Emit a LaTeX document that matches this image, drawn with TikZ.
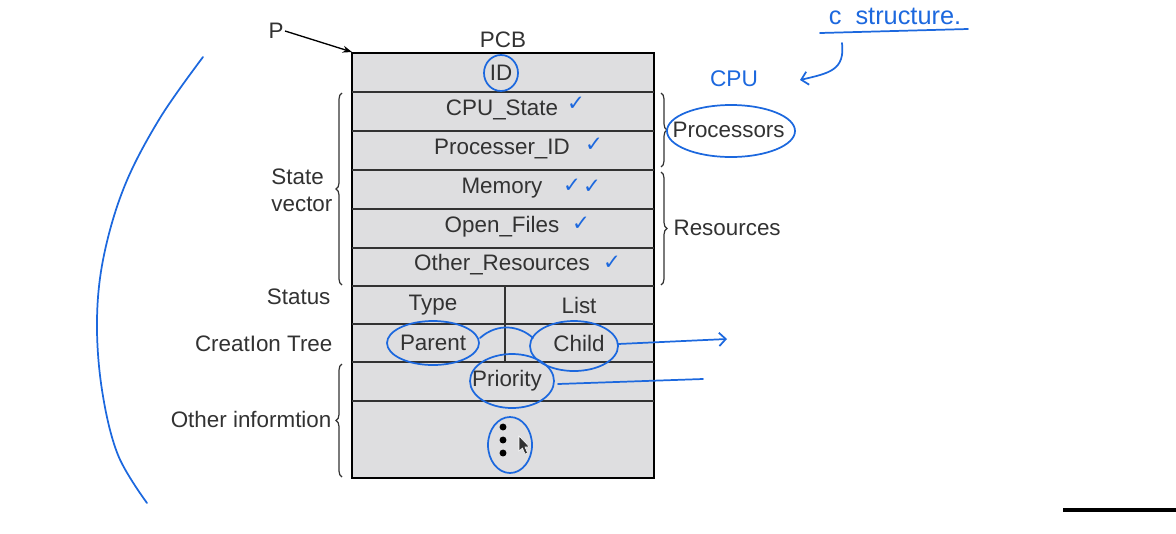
\documentclass[tikz,border=0pt]{standalone}
\usepackage{fontspec}
\setmainfont{Liberation Sans}
\newfontfamily\symfont{DejaVu Sans}
\usetikzlibrary{decorations.pathreplacing,arrows.meta}
\definecolor{pen}{RGB}{28,104,222}
\definecolor{ink}{RGB}{50,50,50}
\definecolor{cell}{RGB}{222,222,224}
\begin{document}
\begin{tikzpicture}[x=0.75pt, y=-0.75pt,
  txt/.style={text=ink, font=\fontsize{16.8}{20}\selectfont, inner sep=1pt},
  pen/.style={draw=pen, line width=1.3pt, line cap=round, line join=round},
  tick/.style={text=pen, font=\symfont\fontsize{16}{16}\selectfont, inner sep=0pt},
  hand/.style={text=pen, font=\fontsize{19}{22}\selectfont, inner sep=0pt},
  brc/.style={decorate, decoration={brace, amplitude=4.5pt}, draw=ink, line width=0.9pt}]
  \useasboundingbox (0,0) rectangle (1176,533);

  % the PCB table
  \draw[fill=cell, line width=1.6pt] (352,53) rectangle (654,478);
  \foreach \y in {92,131,170,209,248,286,324,362,401}
    \draw[ink, line width=1.1pt] (352,\y) -- (654,\y);
  \draw[ink, line width=1.1pt] (505,286) -- (505,362);
  \coordinate (corner) at (352,52);

  \node[txt] (pcb) at (503,40) {PCB};
  \node[txt] (P) at (276,31) {P};
  \draw[line width=1pt, -{Stealth[length=7pt]}] (P.east) -- (corner);

  \node[txt] (id) at (501,73) {ID};
  \node[txt] (cpu) at (502,110) {CPU\_State};
  \node[txt] (pid) at (502,149) {Processer\_ID};
  \node[txt] (mem) at (502,188) {Memory};
  \node[txt] (files) at (502,227) {Open\_Files};
  \node[txt] (other) at (502,265) {Other\_Resources};
  \node[txt] (type) at (433,305) {Type};
  \node[txt] (list) at (579,305) {List};
  \node[txt] (parent) at (433,343) {Parent};
  \node[txt] (child) at (579,343) {Child};
  \node[txt] (prio) at (507,381) {Priority};
  \coordinate (dots) at (503,440);
  \foreach \d in {-13,0,13}
    \fill[black] ([yshift=\d*0.75pt]dots) circle (2.6pt);

  % braces and side labels
  \draw[brc] (342,285) -- (342,93);
  \draw[brc] (342,477) -- (342,364);
  \draw[brc] (661,93) -- (661,167);
  \draw[brc] (661,172) -- (661,285);
  \node[txt, anchor=east, align=left] (sv) at (334,190) {State\\vector};
  \node[txt, anchor=east] (status) at (332,297) {Status};
  \node[txt, anchor=east] (tree) at (334,344) {CreatIon Tree};
  \node[txt, anchor=east] (oinfo) at (333,419) {Other informtion};
  \node[txt, anchor=west] (procs) at (671,130) {Processors};
  \node[txt, anchor=west] (res) at (672,228) {Resources};

  % handwritten notes
  \node[tick] (t1) at (576,104) {✓};
  \node[tick] (t2) at (594,145) {✓};
  \node[tick] (t3) at (572,186) {✓};
  \node[tick] (t4) at (592,187) {✓};
  \node[tick] (t5) at (581,224) {✓};
  \node[tick] (t6) at (612,263) {✓};

  \draw[pen] (id.center) ellipse [x radius=17, y radius=18];
  \draw[pen] (731,131) ellipse [x radius=64, y radius=26];
  \draw[pen] (433,343) ellipse [x radius=46, y radius=22];
  \draw[pen] (574,346) ellipse [x radius=44, y radius=25];
  \draw[pen] (512,381) ellipse [x radius=42, y radius=27];
  \draw[pen] (510,445) ellipse [x radius=22, y radius=28];
  \draw[pen] (480,338) .. controls (498,322) and (520,326) .. (533,338);

  \coordinate (childout) at (727,339);
  \coordinate (prioout) at (703,379);
  \draw[pen, -{Straight Barb[length=5pt]}] (618,344) -- (childout);
  \draw[pen] (558,384) -- (prioout);

  \node[hand] (cstruct) at (895,16) {c\ \ structure.};
  \draw[pen] (820,33) -- (968,29);
  \node[hand, font=\fontsize{17}{20}\selectfont] (cpuhand) at (734,79) {CPU};
  \coordinate (bend) at (842,43);
  \coordinate (tip) at (800,80);
  \draw[pen, -{Straight Barb[length=5pt]}] (bend) .. controls (845,70) and (830,73) .. (tip);

  \draw[pen] plot[smooth, tension=0.6] coordinates {(203,57) (160,118) (125,185) (104,255) (97,320) (102,390) (118,455) (147,503)};

  % mouse pointer
  \fill[ink, draw=white, line width=0.4pt] (519,436) -- (519,451) -- (522.5,448) -- (525,454) -- (527.5,453) -- (525,447) -- (529.5,447) -- cycle;

  \draw[line width=3pt] (1063,510) -- (1176,510);
\end{tikzpicture}
\end{document}
